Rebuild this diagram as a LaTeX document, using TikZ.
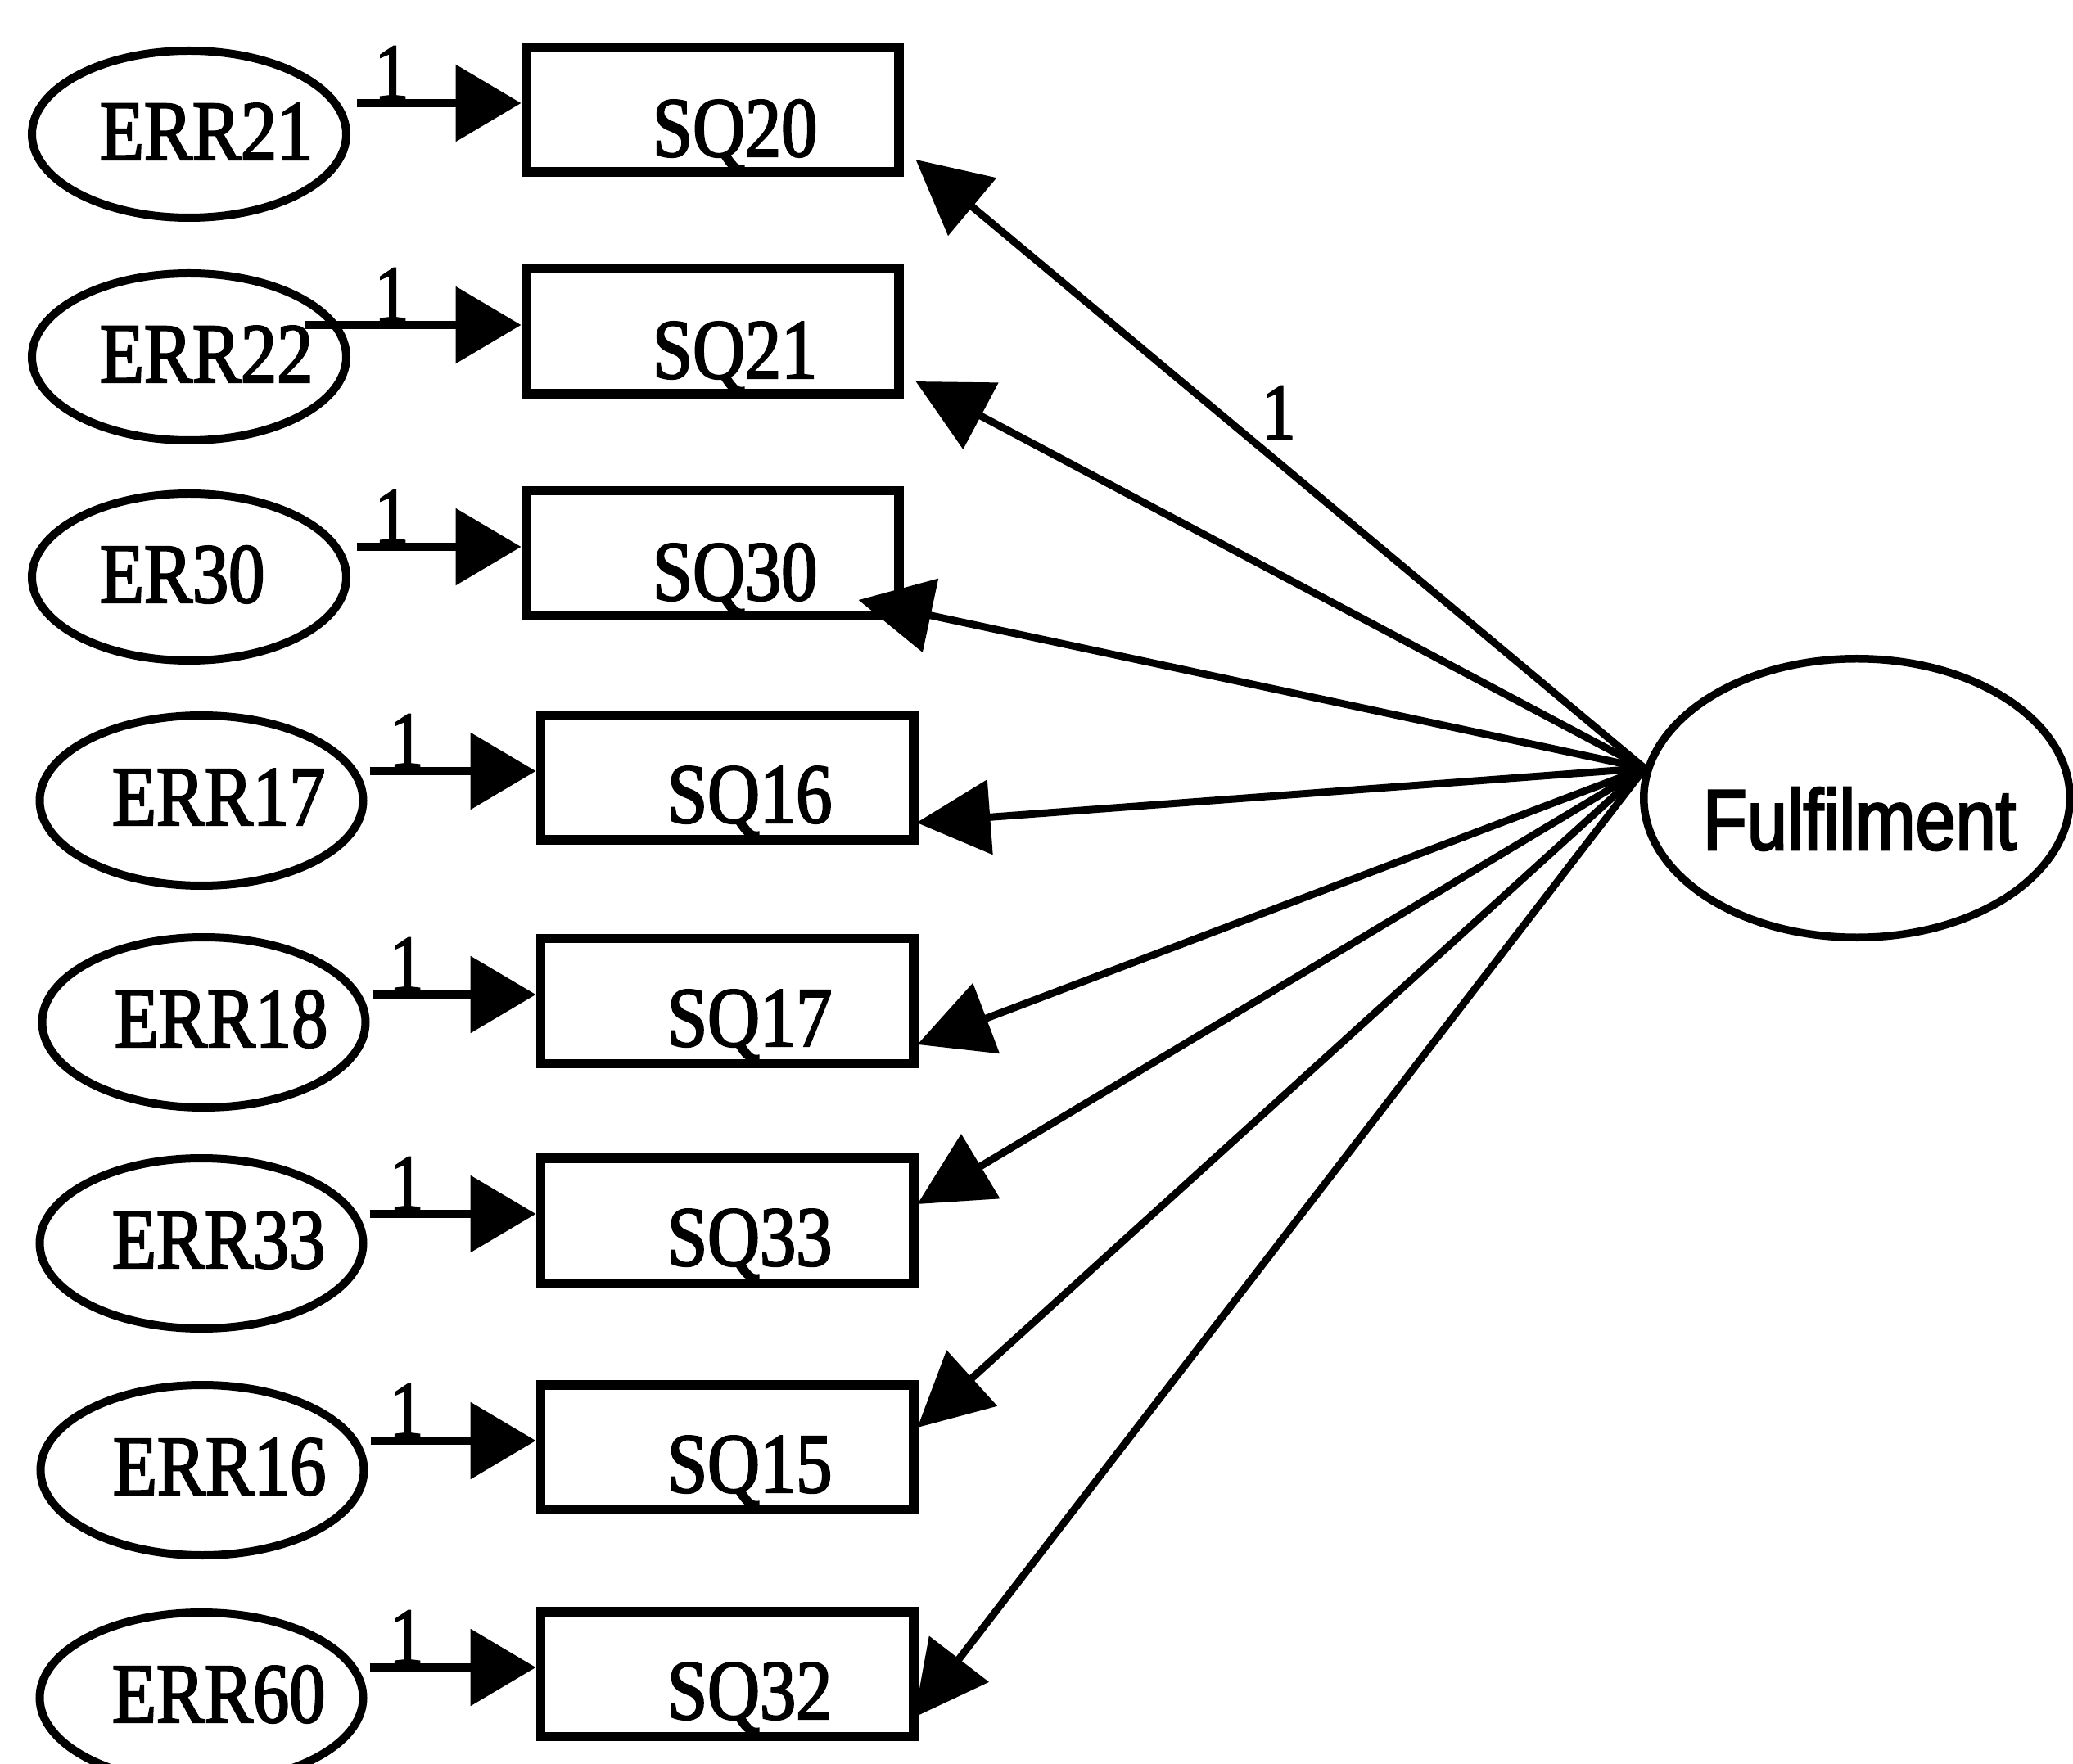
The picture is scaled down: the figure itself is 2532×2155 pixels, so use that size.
\documentclass[tikz,border=0pt]{standalone}
\usepackage{fontspec}
\usetikzlibrary{arrows.meta,shapes.geometric,calc}
\newfontfamily\semfont[FakeStretch=0.85,FakeBold=2.2]{Liberation Serif}
\newfontfamily\latfont[FakeStretch=0.84,FakeBold=2.6]{Liberation Sans}

\begin{document}
\begin{tikzpicture}[x=0.2pt,y=-0.2pt,
  errell/.style={draw, ellipse, line width=2pt, minimum width=76.8pt, minimum height=40.8pt, inner sep=0pt},
  errellb/.style={errell, minimum width=79pt, minimum height=41.6pt},
  itembox/.style={draw, rectangle, line width=2.3pt, minimum width=91.1pt, minimum height=30.5pt, inner sep=0pt},
  latent/.style={draw, ellipse, line width=1.9pt, minimum width=104.1pt, minimum height=68.1pt, inner sep=0pt},
  lbl/.style={inner sep=0pt, anchor=base west, font=\semfont\fontsize{20.8}{24}\selectfont},
  one/.style={inner sep=0pt, font=\semfont\fontsize{19.5}{22}\selectfont},
  errarr/.style={line width=2pt, -{Triangle[length=16pt,width=18.4pt]}},
  fanarr/.style={line width=1.8pt, -{Triangle[length=18pt,width=18pt]}},
]
\path[use as bounding box] (0,0) rectangle (2532,2155);

% error terms
\node[errell]  (e1) at (231,164)  {};
\node[errell]  (e2) at (231,436)  {};
\node[errell]  (e3) at (231,705)  {};
\node[errellb] (e4) at (246,978)  {};
\node[errellb] (e5) at (249,1249) {};
\node[errellb] (e6) at (246,1519) {};
\node[errellb] (e7) at (247,1796) {};
\node[errellb] (e8) at (246,2074) {};

\node[lbl] (te1) at ($(e1.center)+(-110,31)$) {ERR21};
\node[lbl] (te2) at ($(e2.center)+(-110,31)$) {ERR22};
\node[lbl] (te3) at ($(e3.center)+(-110,31)$) {ER30};
\node[lbl] (te4) at ($(e4.center)+(-110,30)$) {ERR17};
\node[lbl] (te5) at ($(e5.center)+(-110,30)$) {ERR18};
\node[lbl] (te6) at ($(e6.center)+(-110,30)$) {ERR33};
\node[lbl] (te7) at ($(e7.center)+(-110,30)$) {ERR16};
\node[lbl] (te8) at ($(e8.center)+(-110,30)$) {ERR60};

% observed items
\node[itembox] (b1) at (870,134)  {};
\node[itembox] (b2) at (870,405)  {};
\node[itembox] (b3) at (870,676)  {};
\node[itembox] (b4) at (888,950)  {};
\node[itembox] (b5) at (888,1223) {};
\node[itembox] (b6) at (888,1491) {};
\node[itembox] (b7) at (888,1768) {};
\node[itembox] (b8) at (888,2045) {};

\node[lbl] (tb1) at ($(b1.center)+(-74,57)$) {SQ20};
\node[lbl] (tb2) at ($(b2.center)+(-74,57)$) {SQ21};
\node[lbl] (tb3) at ($(b3.center)+(-74,57)$) {SQ30};
\node[lbl] (tb4) at ($(b4.center)+(-74,55)$) {SQ16};
\node[lbl] (tb5) at ($(b5.center)+(-74,55)$) {SQ17};
\node[lbl] (tb6) at ($(b6.center)+(-74,55)$) {SQ33};
\node[lbl] (tb7) at ($(b7.center)+(-74,55)$) {SQ15};
\node[lbl] (tb8) at ($(b8.center)+(-74,55)$) {SQ32};

% latent factor
\node[latent] (F) at (2268,975) {};
\node[inner sep=0pt, anchor=base west, font=\latfont\fontsize{21}{24}\selectfont]
  (tF) at ($(F.center)+(-189,63)$) {Fulfilment};
\coordinate (hub) at (F.172.5);

% error paths, fixed at 1
\foreach \i/\s in {1/8,2/-55,3/8,4/3,5/3,6/3,7/3,8/3}{
  \coordinate (t\i) at ($(b\i.west)+(0,-8)$);
  \draw[errarr] ($(e\i.east|-t\i)+(\s,0)$) -- (t\i);
  \node[one, anchor=south] (o\i) at ($(t\i)+(-158,-4)$) {1};
}

% loadings
\coordinate (f1) at ($(b1.east)+(15,61)$);
\coordinate (f2) at ($(b2.east)+(15,61)$);
\coordinate (f3) at ($(b3.east)+(-55,57)$);
\coordinate (f4) at ($(b4.east)+(-2,55)$);
\coordinate (f5) at ($(b5.east)+(-1,53)$);
\coordinate (f6) at ($(b6.east)+(-1,-20)$);
\coordinate (f7) at ($(b7.east)+(-1,-24)$);
\coordinate (f8) at ($(b8.east)+(-5,53)$);
\foreach \i in {1,...,8}{
  \draw[fanarr] (hub) -- (f\i);
}
\node[one, anchor=south west] (w1) at ($(hub)!0.54!(f1)+(12,0)$) {1};
\end{tikzpicture}
\end{document}
